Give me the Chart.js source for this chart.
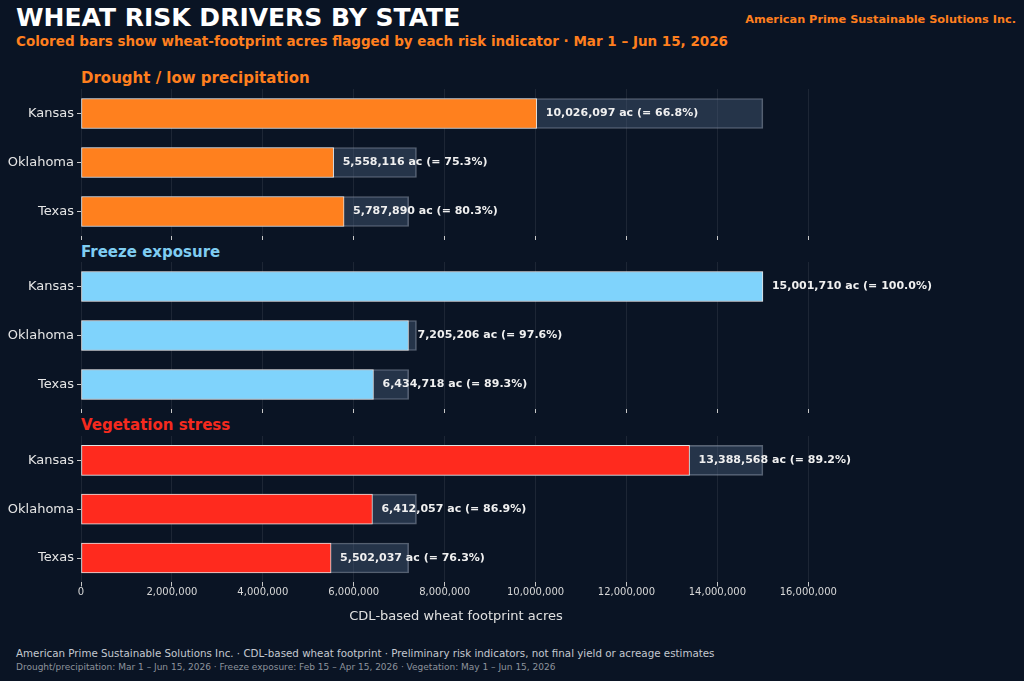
<!DOCTYPE html>
<html>
<head>
<meta charset="utf-8">
<script src="https://cdn.jsdelivr.net/npm/chart.js@4.4.1/dist/chart.umd.min.js"></script>
<style>
  body { margin: 0; background: #0a1424; width: 1024px; height: 681px; overflow: hidden; font-family: "DejaVu Sans", sans-serif; position: relative; }
  .abs { position: absolute; white-space: nowrap; }
  #title { left: 16px; top: 3px; font-size: 25px; font-weight: bold; color: #ffffff; }
  #subtitle { left: 16px; top: 33px; font-size: 13.5px; font-weight: bold; color: #ff7f1e; }
  #company { right: 8px; top: 13px; font-size: 11.3px; font-weight: bold; color: #ff7f1e; }
  .ptitle { left: 81px; font-size: 15px; font-weight: bold; }
  #foot1 { left: 16px; top: 647px; font-size: 10.3px; color: #c4c9d0; }
  #foot2 { left: 16px; top: 662px; font-size: 9px; color: #8d939c; }
  .panel { position: absolute; left: 0; width: 1024px; }
</style>
</head>
<body>
<div class="abs" id="title">WHEAT RISK DRIVERS BY STATE</div>
<div class="abs" id="subtitle">Colored bars show wheat-footprint acres flagged by each risk indicator · Mar 1 – Jun 15, 2026</div>
<div class="abs" id="company">American Prime Sustainable Solutions Inc.</div>

<div class="abs ptitle" style="top:69px;color:#ff7f1e">Drought / low precipitation</div>
<div class="abs ptitle" style="top:243px;color:#7fcdf2">Freeze exposure</div>
<div class="abs ptitle" style="top:416px;color:#f52a1e">Vegetation stress</div>

<div class="panel" style="top:89px;height:151px"><canvas id="c1"></canvas></div>
<div class="panel" style="top:262px;height:151px"><canvas id="c2"></canvas></div>
<div class="panel" style="top:436px;height:188px"><canvas id="c3"></canvas></div>

<div class="abs" id="foot1">American Prime Sustainable Solutions Inc. · CDL-based wheat footprint · Preliminary risk indicators, not final yield or acreage estimates</div>
<div class="abs" id="foot2">Drought/precipitation: Mar 1 – Jun 15, 2026 · Freeze exposure: Feb 15 – Apr 15, 2026 · Vegetation: May 1 – Jun 15, 2026</div>

<script>
// states and wheat footprint totals (acres)
var states = ['Kansas', 'Oklahoma', 'Texas'];
var footprint = [15001710, 7380000, 7208000];

// flagged acres per indicator
var drought = [10026097, 5558116, 5787890];
var freeze = [15001710, 7205206, 6434718];
var vegetation = [13388568, 6412057, 5502037];

// share of footprint shown in the labels
var droughtPct = [66.8, 75.3, 80.3];
var freezePct = [100.0, 97.6, 89.3];
var vegetationPct = [89.2, 86.9, 76.3];

// x tick values
var xTicks = [0, 2000000, 4000000, 6000000, 8000000, 10000000, 12000000, 14000000, 16000000];
var xMax = 16500000;

// text after the flagged bar
const valueLabels = {
    id: 'valueLabels',
    afterDatasetsDraw(chart, args, opts) {
        const ctx = chart.ctx;
        const meta = chart.getDatasetMeta(0);
        ctx.save();
        ctx.font = 'bold 11px "DejaVu Sans"';
        ctx.fillStyle = '#f0f0f0';
        ctx.textAlign = 'left';
        ctx.textBaseline = 'middle';
        meta.data.forEach(function (bar, i) {
            var v = chart.data.datasets[0].data[i];
            var txt = v.toLocaleString('en-US') + ' ac (= ' + opts.pct[i].toFixed(1) + '%)';
            ctx.fillText(txt, bar.x + 9, bar.y);
        });
        ctx.restore();
    }
};

function makePanel(id, values, pct, color, showAxis) {
    new Chart(document.getElementById(id), {
        type: 'bar',
        data: {
            labels: states,
            datasets: [{
                data: values,
                backgroundColor: color,
                borderColor: '#e2e2e2',
                borderWidth: 1,
                borderSkipped: false,
                barThickness: 30,
                grouped: false
            }, {
                data: footprint,
                backgroundColor: 'rgba(70, 90, 120, 0.45)',
                borderColor: 'rgba(140, 150, 165, 0.6)',
                borderWidth: 1,
                borderSkipped: false,
                barThickness: 30,
                grouped: false
            }]
        },
        options: {
            indexAxis: 'y',
            responsive: true,
            maintainAspectRatio: false,
            animation: false,
            layout: { padding: { top: 0, right: 193, bottom: 0, left: 0 } },
            plugins: {
                legend: { display: false },
                tooltip: { enabled: false },
                valueLabels: { pct: pct }
            },
            scales: {
                x: {
                    min: 0,
                    max: xMax,
                    afterBuildTicks: function (scale) {
                        scale.ticks = xTicks.map(function (v) { return { value: v }; });
                    },
                    border: { display: false },
                    grid: {
                        color: 'rgba(255, 255, 255, 0.08)',
                        tickColor: '#c8c8c8',
                        tickLength: 4
                    },
                    ticks: {
                        display: showAxis,
                        padding: 0,
                        color: '#d8d8d8',
                        font: { family: 'DejaVu Sans', size: 10 },
                        callback: function (v) { return v.toLocaleString('en-US'); }
                    },
                    title: {
                        display: showAxis,
                        text: 'CDL-based wheat footprint acres',
                        color: '#e0e0e0',
                        font: { family: 'DejaVu Sans', size: 13 },
                        padding: { top: 10, bottom: 0 }
                    }
                },
                y: {
                    afterFit: function (scale) {
                        scale.width = 81;
                        scale.paddingTop = 0;
                        scale.paddingBottom = 0;
                    },
                    border: { display: false },
                    grid: {
                        offset: false,
                        drawOnChartArea: false,
                        tickColor: '#c8c8c8',
                        tickLength: 4
                    },
                    ticks: {
                        padding: 3,
                        color: '#e6e6e6',
                        font: { family: 'DejaVu Sans', size: 13 }
                    }
                }
            }
        },
        plugins: [valueLabels]
    });
}

makePanel('c1', drought, droughtPct, '#ff801e', false);
makePanel('c2', freeze, freezePct, '#7fd3fc', false);
makePanel('c3', vegetation, vegetationPct, '#ff2a1e', true);
</script>
</body>
</html>
